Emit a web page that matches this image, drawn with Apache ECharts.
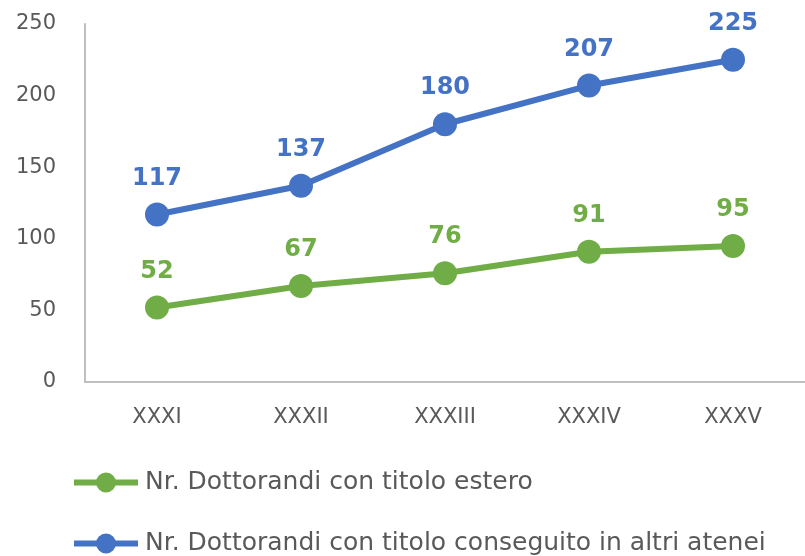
<!DOCTYPE html>
<html>
<head>
<meta charset="utf-8">
<script src="https://cdn.jsdelivr.net/npm/echarts@6/dist/echarts.min.js"></script>
<style>
  html, body { margin: 0; padding: 0; background: #fff; }
  #chart { width: 805px; height: 556px; }
</style>
</head>
<body>
<div id="chart"></div>
<script>
// cicli di dottorato
const cicli = ['XXXI', 'XXXII', 'XXXIII', 'XXXIV', 'XXXV'];
const titoloEstero = [52, 67, 76, 91, 95];
const altriAtenei = [117, 137, 180, 207, 225];

const nomeEstero = 'Nr. Dottorandi con titolo estero';
const nomeAtenei = 'Nr. Dottorandi con titolo conseguito in altri atenei';

const font = '"DejaVu Sans", "Noto Sans", sans-serif';

let myChart = echarts.init(document.getElementById('chart'));

function legenda(nome, top) {
  return {
    orient: 'vertical',
    left: 71,
    top: top,
    padding: 0,
    itemWidth: 64,
    itemHeight: 25,
    itemGap: 0,
    lineStyle: { width: 6 },
    textStyle: {
      color: '#595959',
      fontSize: 25,
      fontFamily: font,
      padding: [0, 0, 0, 2]
    },
    data: [nome]
  }
}

function etichetta(colore) {
  return {
    show: true,
    position: 'top',
    distance: 12,
    color: colore,
    fontSize: 24,
    fontWeight: 'bold',
    fontFamily: font
  }
}

let option = {
  animation: false,
  textStyle: { fontFamily: font },
  grid: {
    left: 85,
    right: 0,
    top: 24,
    bottom: 174
  },
  legend: [
    legenda(nomeEstero, 470),
    legenda(nomeAtenei, 531)
  ],
  xAxis: {
    type: 'category',
    data: cicli,
    boundaryGap: true,
    axisLine: { lineStyle: { color: '#bfbfbf', width: 2 } },
    axisTick: { length: 7, lineStyle: { color: '#bfbfbf', width: 2 } },
    axisLabel: { color: '#595959', fontSize: 21, margin: 25 }
  },
  yAxis: {
    type: 'value',
    min: 0,
    max: 250,
    interval: 50,
    axisLine: { show: true, lineStyle: { color: '#bfbfbf', width: 2 } },
    axisTick: { show: false },
    splitLine: { show: false },
    axisLabel: { color: '#595959', fontSize: 21, margin: 29 }
  },
  series: [
    {
      name: nomeEstero,
      type: 'line',
      data: titoloEstero,
      symbol: 'circle',
      symbolSize: 24,
      lineStyle: { width: 6, color: '#70AD47' },
      itemStyle: { color: '#70AD47' },
      label: etichetta('#70AD47')
    },
    {
      name: nomeAtenei,
      type: 'line',
      data: altriAtenei,
      symbol: 'circle',
      symbolSize: 24,
      lineStyle: { width: 6, color: '#4472C4' },
      itemStyle: { color: '#4472C4' },
      label: etichetta('#4472C4')
    }
  ]
};

myChart.setOption(option);
</script>
</body>
</html>
